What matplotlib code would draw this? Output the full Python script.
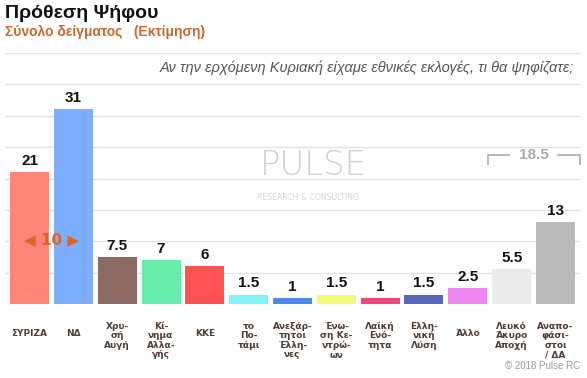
import matplotlib
matplotlib.use("Agg")
import matplotlib.pyplot as plt
from matplotlib.transforms import blended_transform_factory

categories = ["ΣΥΡΙΖΑ", "ΝΔ", "Χρυ-\nσή\nΑυγή", "Κί-\nνημα\nΑλλα-\nγής", "ΚΚΕ",
              "το\nΠο-\nτάμι", "Ανεξάρ-\nτητοι\nΈλλη-\nνες", "Ένω-\nση Κε-\nντρώ-\nων",
              "Λαϊκή\nΕνό-\nτητα", "Ελλη-\nνική\nΛύση", "Άλλο", "Λευκό\nΆκυρο\nΑποχή",
              "Αναπο-\nφάσι-\nστοι\n/ ΔΑ"]
values = [21, 31, 7.5, 7, 6, 1.5, 1, 1.5, 1, 1.5, 2.5, 5.5, 13]
value_labels = ["21", "31", "7.5", "7", "6", "1.5", "1", "1.5", "1", "1.5", "2.5", "5.5", "13"]
colors = ["#FF8577", "#7EAEFF", "#8D6B62", "#66EBAA", "#FF5252", "#80F4F6", "#4A8BEA",
          "#F0FA76", "#F0457A", "#5867BE", "#EE86F2", "#EBEBEB", "#B9B9B9"]
gap_value = "10"
gap_pair = (0, 1)
group_value = "18.5"
group_range = (11, 12)

W, H = 587, 378
fig = plt.figure(figsize=(W / 100, H / 100), dpi=100)
fig.patch.set_facecolor("white")

def px(x, y):
    return x / W, 1 - y / H

ax_left, ax_right, ax_top, ax_bot = 5, 580, 53, 304
ax = fig.add_axes([ax_left / W, (H - ax_bot) / H, (ax_right - ax_left) / W, (ax_bot - ax_top) / H])
ax.set_xlim(-0.56, 12.56)
ax.set_ylim(0, 40)
for s in ax.spines.values():
    s.set_visible(False)
ax.set_xticks([])
ax.set_yticks([])
for g in range(0, 45, 5):
    ax.axhline(g, color="#E2E2E2", lw=1.0, zorder=0)

# watermark
fig.text(*px(313, 166), "PULSE", fontsize=24.5, color="#CFCFCF", ha="center", va="center",
         family="DejaVu Sans", fontweight="light", zorder=1)
fig.text(*px(308, 198), "RESEARCH & CONSULTING", fontsize=5.6, color="#D6D6D6", ha="center",
         va="center", family="DejaVu Sans")

x = list(range(len(values)))
ax.bar(x, values, width=0.89, color=colors, zorder=2)
for xi, v, lab in zip(x, values, value_labels):
    ax.annotate(lab, (xi, v), xytext=(0, 3), textcoords="offset points", ha="center",
                va="bottom", fontsize=11, fontweight="bold", color="#111111",
                family="Liberation Sans")

# gap annotation
gx = (gap_pair[0] + gap_pair[1]) / 2
ax.text(gx, 10.2, "◀ " + gap_value + " ▶", ha="center", va="center", fontsize=11,
        fontweight="bold", color="#E0641E", family="DejaVu Sans", zorder=3)

# group bracket
yb, yt = 22.3, 23.7
x0, x1 = group_range[0] - 0.55, group_range[1] + 0.55
xm = (group_range[0] + group_range[1]) / 2
ax.plot([x0, x0, xm - 0.55], [yb, yt, yt], color="#AAAAAA", lw=1.2, clip_on=False)
ax.plot([xm + 0.55, x1, x1], [yt, yt, yb], color="#AAAAAA", lw=1.2, clip_on=False)
ax.text(xm, yt, group_value, ha="center", va="center", fontsize=11, fontweight="bold",
        color="#AAAAAA", family="Liberation Sans")

# category labels
trans = blended_transform_factory(ax.transData, fig.transFigure)
for xi, c in zip(x, categories):
    if "\n" in c:
        ax.text(xi, 1 - 322 / H, c, transform=trans, ha="center", va="top", fontsize=6.5,
                color="#4E3D35", family="DejaVu Sans", linespacing=1.05, fontweight="semibold")
    else:
        ax.text(xi, 1 - 333 / H, c, transform=trans, ha="center", va="center", fontsize=6.5,
                color="#4E3D35", family="DejaVu Sans", fontweight="semibold")

# titles
fig.text(*px(5, 13), "Πρόθεση Ψήφου", fontsize=14, fontweight="bold", color="#111111",
         ha="left", va="center", family="Liberation Sans")
fig.text(*px(5, 32), "Σύνολο δείγματος   (Εκτίμηση)", fontsize=10, fontweight="bold",
         color="#C9662B", ha="left", va="center", family="Liberation Sans")
fig.text(*px(574, 68), "Αν την ερχόμενη Κυριακή είχαμε εθνικές εκλογές, τι θα ψηφίζατε;",
         fontsize=10.5, style="italic", color="#555555", ha="right", va="center",
         family="Liberation Sans")
fig.text(*px(580, 366), "© 2018 Pulse RC", fontsize=7, color="#9A9A9A", ha="right",
         va="center", family="Liberation Sans")

fig.savefig("out.png", dpi=100, facecolor="white")
